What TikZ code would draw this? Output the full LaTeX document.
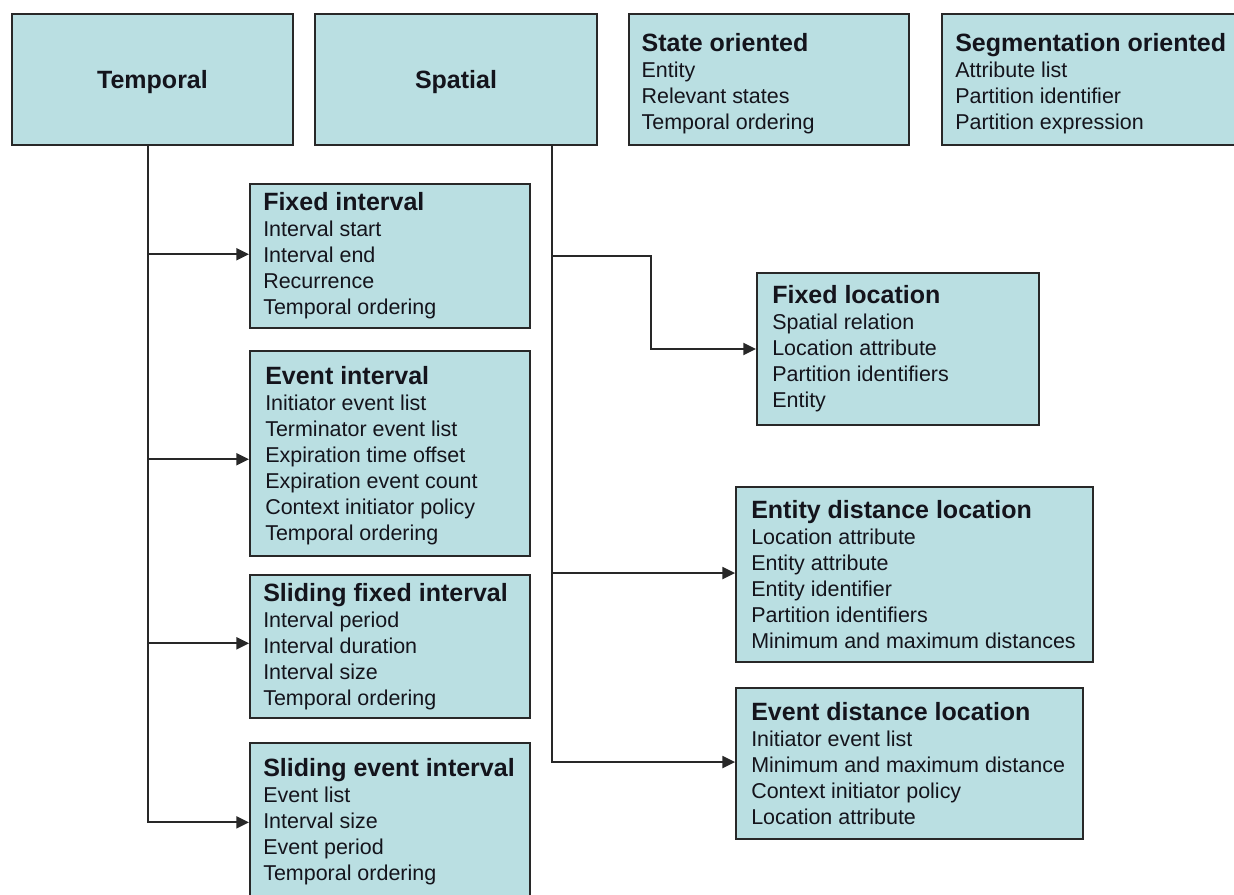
\documentclass[tikz,border=0pt]{standalone}
\usepackage{fontspec}
\setmainfont{Liberation Sans}
\usetikzlibrary{arrows.meta,calc}
\definecolor{boxfill}{RGB}{186,223,226}
\definecolor{edge}{RGB}{40,40,40}
\definecolor{ink}{RGB}{20,20,28}
\newcommand\boxhead[1]{{\fontsize{18.75}{19.5}\selectfont\bfseries #1}}
\begin{document}
\begin{tikzpicture}[x=0.75pt,y=-0.75pt,
  box/.style={draw=edge, line width=1.5pt, fill=boxfill, inner sep=0pt},
  big/.style={text=ink, font=\fontsize{18.75}{22}\selectfont\bfseries},
  list/.style={align=left, inner sep=0pt, anchor=west, text=ink,
               font=\fontsize{16.1}{19.5}\selectfont},
  link/.style={draw=edge, line width=1.5pt},
  arr/.style={link, -{Triangle[length=9.5pt,width=9pt]}}]
\useasboundingbox (0,0) rectangle (1234,894);
\clip (0,0) rectangle (1234,894);

% top row
\node[box, minimum width=210.75pt, minimum height=98.25pt] (temporal) at (152.5,79.5) {};
\node[big] (temporal-txt) at ([yshift=-2pt]temporal.center) {Temporal};
\node[box, minimum width=211.5pt, minimum height=98.25pt] (spatial) at (456,79.5) {};
\node[big] (spatial-txt) at ([yshift=-2pt]spatial.center) {Spatial};

\node[box, minimum width=210pt, minimum height=98.25pt] (state) at (769,79.5) {};
\node[list] (state-txt) at ([xshift=10pt,yshift=-3pt]state.west)
  {\boxhead{State oriented}\\Entity\\Relevant states\\Temporal ordering};
\node[box, minimum width=238.5pt, minimum height=98.25pt] (segment) at (1101,79.5) {};
\node[list] (segment-txt) at ([xshift=10.5pt,yshift=-3pt]segment.west)
  {\boxhead{Segmentation oriented}\\Attribute list\\Partition identifier\\Partition expression};

% temporal windows
\node[box, minimum width=210pt, minimum height=108pt] (fixedint) at (390,256) {};
\node[list] (fixedint-txt) at ([xshift=10.5pt]fixedint.west)
  {\boxhead{Fixed interval}\\Interval start\\Interval end\\Recurrence\\Temporal ordering};
\node[box, minimum width=210pt, minimum height=153.75pt] (eventint) at (390,453.5) {};
\node[list] (eventint-txt) at ([xshift=12pt,yshift=-1.5pt]eventint.west)
  {\boxhead{Event interval}\\Initiator event list\\Terminator event list\\Expiration time offset\\Expiration event count\\Context initiator policy\\Temporal ordering};
\node[box, minimum width=210pt, minimum height=107.25pt] (slidefix) at (390,646.5) {};
\node[list] (slidefix-txt) at ([xshift=10.5pt]slidefix.west)
  {\boxhead{Sliding fixed interval}\\Interval period\\Interval duration\\Interval size\\Temporal ordering};
\node[box, minimum width=210pt, minimum height=121.5pt] (slideevt) at (390,824) {};
\node[list] (slideevt-txt) at ([xshift=10.5pt,yshift=1.5pt]slideevt.west)
  {\boxhead{Sliding event interval}\\Event list\\Interval size\\Event period\\Temporal ordering};

% spatial windows
\node[box, minimum width=211.5pt, minimum height=114pt] (fixedloc) at (898,349) {};
\node[list] (fixedloc-txt) at ([xshift=12pt]fixedloc.west)
  {\boxhead{Fixed location}\\Spatial relation\\Location attribute\\Partition identifiers\\Entity};
\node[box, minimum width=267.75pt, minimum height=131.25pt] (entdist) at (914.5,574.5) {};
\node[list] (entdist-txt) at ([xshift=12pt]entdist.west)
  {\boxhead{Entity distance location}\\Location attribute\\Entity attribute\\Entity identifier\\Partition identifiers\\Minimum and maximum distances};
\node[box, minimum width=260.25pt, minimum height=113.25pt] (evtdist) at (909.5,763.5) {};
\node[list] (evtdist-txt) at ([xshift=12pt]evtdist.west)
  {\boxhead{Event distance location}\\Initiator event list\\Minimum and maximum distance\\Context initiator policy\\Location attribute};

% temporal branch
\coordinate (tbus) at ([xshift=-3.4pt]temporal.south);
\coordinate (fi-in) at ([yshift=1.3pt]fixedint.west);
\coordinate (ei-in) at ([yshift=-4.3pt]eventint.west);
\coordinate (sf-in) at ([yshift=2.4pt]slidefix.west);
\coordinate (se-in) at ([yshift=1.2pt]slideevt.west);
\draw[arr] (tbus) |- (se-in);
\draw[arr] (tbus |- fi-in) -- (fi-in);
\draw[arr] (tbus |- ei-in) -- (ei-in);
\draw[arr] (tbus |- sf-in) -- (sf-in);

% spatial branch
\coordinate (sbus) at ([xshift=72pt]spatial.south);
\coordinate (fl-bend) at (651,256);
\coordinate (en-in) at ([yshift=1.1pt]entdist.west);
\coordinate (ed-in) at ([yshift=1.1pt]evtdist.west);
\draw[arr] (sbus) |- (ed-in);
\draw[arr] (sbus |- fl-bend) -- (fl-bend) |- (fixedloc.west);
\draw[arr] (sbus |- en-in) -- (en-in);
\end{tikzpicture}
\end{document}
